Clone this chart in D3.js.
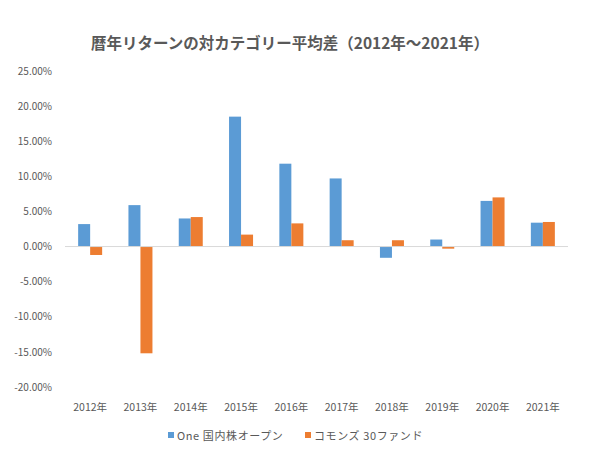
<!DOCTYPE html>
<html>
<head>
<meta charset="utf-8">
<script src="https://cdn.jsdelivr.net/npm/d3@7"></script>
<style>
  body { margin: 0; background: #fff; }
  text { font-family: "Noto Sans CJK JP", "Noto Sans", sans-serif; fill: #595959; }
</style>
</head>
<body>
<svg id="chart" width="605" height="456"></svg>
<script>
const years = ['2012年', '2013年', '2014年', '2015年', '2016年', '2017年', '2018年', '2019年', '2020年', '2021年'];
const seriesNames = ['One 国内株オープン', 'コモンズ 30ファンド'];
const oneValues = [3.2, 5.9, 4.0, 18.5, 11.8, 9.7, -1.6, 1.0, 6.5, 3.4];
const commonsValues = [-1.2, -15.2, 4.2, 1.7, 3.3, 0.9, 0.9, -0.3, 7.0, 3.5];
const yTicks = [-20, -15, -10, -5, 0, 5, 10, 15, 20, 25];
const colors = ['#5B9BD5', '#ED7D31'];

const svg = d3.select('#chart');
const margin = { left: 65, right: 37, top: 71, bottom: 69 };
const width = 605 - margin.left - margin.right;
const height = 456 - margin.top - margin.bottom;

const x = d3.scaleBand().domain(years).range([margin.left, margin.left + width]);
const xInner = d3.scaleBand().domain([0, 1]).range([0, 24]);
const y = d3.scaleLinear().domain([-20, 25]).range([margin.top + height, margin.top]);

svg.append('text')
  .attr('x', 290).attr('y', 49)
  .attr('text-anchor', 'middle')
  .style('font-size', '15.5px').style('font-weight', 'bold')
  .text('暦年リターンの対カテゴリー平均差（2012年～2021年）');

// y axis labels
svg.append('g')
  .attr('transform', `translate(${margin.left - 10},0)`)
  .call(d3.axisLeft(y).tickValues(yTicks).tickSize(0).tickFormat(d => d.toFixed(2) + '%'))
  .call(g => g.select('.domain').remove())
  .selectAll('text').style('font-size', '10px').attr('dx', 0);

// bars
const data = years.map((yr, i) => ({ yr, vals: [oneValues[i], commonsValues[i]] }));
const groups = svg.append('g').selectAll('g').data(data).enter().append('g')
  .attr('transform', d => `translate(${x(d.yr) + x.bandwidth() / 2 - 12},0)`);
groups.selectAll('rect').data(d => d.vals).enter().append('rect')
  .attr('x', (d, i) => xInner(i))
  .attr('width', xInner.bandwidth())
  .attr('y', d => y(Math.max(0, d)))
  .attr('height', d => Math.abs(y(d) - y(0)))
  .attr('fill', (d, i) => colors[i]);

// zero line
svg.append('line')
  .attr('x1', margin.left).attr('x2', margin.left + width)
  .attr('y1', y(0)).attr('y2', y(0))
  .attr('stroke', '#D9D9D9').attr('stroke-width', 1);

// x labels
svg.append('g').selectAll('text').data(years).enter().append('text')
  .attr('x', d => x(d) + x.bandwidth() / 2)
  .attr('y', 411)
  .attr('text-anchor', 'middle')
  .style('font-size', '10.5px')
  .text(d => d);

// legend
const legendX = [168, 305];
const legend = svg.append('g').selectAll('g').data(seriesNames).enter().append('g')
  .attr('transform', (d, i) => `translate(${legendX[i]},436)`);
legend.append('rect').attr('x', 0).attr('y', -4).attr('width', 6).attr('height', 6)
  .attr('fill', (d, i) => colors[i]);
legend.append('text').attr('x', 9).attr('y', 4)
  .style('font-size', '11px').style('letter-spacing', '0.6px').text(d => d);
</script>
</body>
</html>
